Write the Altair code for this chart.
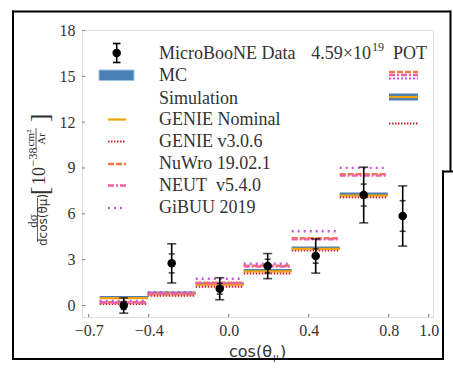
import altair as alt
import pandas as pd

# ---- measured differential cross section (MicroBooNE data) ----
data_x = [-0.525, -0.285, -0.045, 0.195, 0.435, 0.675, 0.87]
data_y = [0.0, 2.76, 1.10, 2.58, 3.24, 7.23, 5.86]
err_total = [0.50, 1.28, 0.72, 0.82, 1.12, 1.82, 1.97]
err_stat = [0.25, 0.62, 0.35, 0.45, 0.47, 0.72, 1.00]

# ---- simulated predictions, one value per cos(theta_mu) bin ----
bin_lo = [-0.645, -0.405, -0.165, 0.075, 0.315, 0.555]
bin_hi = [-0.405, -0.165, 0.075, 0.315, 0.555, 0.795]
mc_band = [0.52, 0.82, 1.42, 2.29, 3.77, 7.30]
genie_nominal = [0.48, 0.78, 1.37, 2.24, 3.71, 7.20]
genie_v306 = [0.11, 0.65, 1.24, 2.11, 3.60, 7.09]
nuwro = [0.22, 0.73, 1.50, 2.60, 4.40, 8.60]
neut = [0.18, 0.77, 1.46, 2.55, 4.34, 8.51]
gibuu = [0.30, 0.87, 1.75, 2.73, 4.86, 9.01]

x_ticks = [-0.7, -0.4, 0.0, 0.4, 0.8, 1.0]
y_ticks = [0, 3, 6, 9, 12, 15, 18]

# ---- styles ----
SERIF = "Liberation Serif"
SANS = "DejaVu Sans"
TXT = "#333333"
C_MC = "#4a7fb5"
C_NOM = "#f2a20a"
C_V3 = "#c8202c"
C_NUWRO = "#f07a45"
C_NEUT = "#f062a8"
C_GIBUU = "#c458dc"

W, H = 351, 287
OX, OY = 82, 30  # page position of the plot area


def px(x):
    return x - OX


def py(y):
    return y - OY


xs = alt.Scale(domain=[-0.7335, 1.0215], nice=False, zero=False)
ys = alt.Scale(domain=[-0.75, 18.03], nice=False, zero=False)

axis_x = alt.Axis(values=x_ticks, labelFont=SERIF, labelFontSize=16, labelColor=TXT,
                  labelExpr="replace(format(datum.value, '.1f'), '-', '\u2212')",
                  ticks=False, domain=False, grid=False, labelPadding=5, title=None,
                  labelFlush=False)
axis_y = alt.Axis(values=y_ticks, labelFont=SERIF, labelFontSize=16, labelColor=TXT,
                  ticks=False, domain=False, grid=False, labelPadding=7, title=None)


def X(field):
    return alt.X(field + ":Q", scale=xs, axis=axis_x)


def Y(field):
    return alt.Y(field + ":Q", scale=ys, axis=axis_y)


sim = pd.DataFrame({"lo": bin_lo, "hi": bin_hi, "mc": mc_band,
                    "nom": genie_nominal, "v3": genie_v306,
                    "nuwro": nuwro, "neut": neut, "gibuu": gibuu})

dat = pd.DataFrame({"x": data_x, "y": data_y})
dat["tlo"] = [y - e for y, e in zip(data_y, err_total)]
dat["thi"] = [y + e for y, e in zip(data_y, err_total)]
dat["slo"] = [y - e for y, e in zip(data_y, err_stat)]
dat["shi"] = [y + e for y, e in zip(data_y, err_stat)]

base_sim = alt.Chart(sim)


def step(field, color, width, dash=None):
    kw = dict(color=color, strokeWidth=width)
    if dash:
        kw["strokeDash"] = dash
    return base_sim.mark_rule(**kw).encode(x=X("lo"), x2="hi", y=Y(field))


layers = []

# inward tick marks
layers.append(
    alt.Chart(pd.DataFrame({"t": x_ticks})).mark_rule(color="#777", strokeWidth=1).encode(
        x=X("t"), y=alt.value(H), y2=alt.value(H - 3)
    )
)
layers.append(
    alt.Chart(pd.DataFrame({"t": y_ticks})).mark_rule(color="#777", strokeWidth=1).encode(
        y=Y("t"), x=alt.value(0), x2=alt.value(3)
    )
)

# simulated predictions
layers.append(step("mc", C_MC, 3.0))
layers.append(step("v3", C_V3, 2.2, [1.5, 1.5]))
layers.append(step("nom", C_NOM, 2.2))
layers.append(step("nuwro", C_NUWRO, 2.4, [6, 2]))
layers.append(step("neut", C_NEUT, 2.4, [6, 2, 2, 2]))
layers.append(step("gibuu", C_GIBUU, 2.4, [2, 4]))

# data: total error bars with caps, statistical ticks, markers
bd = alt.Chart(dat)
layers.append(bd.mark_rule(color="black", strokeWidth=1.6).encode(x=X("x"), y=Y("tlo"), y2="thi"))
for f, sz in (("tlo", 9), ("thi", 9), ("slo", 6), ("shi", 6)):
    layers.append(bd.mark_tick(color="black", thickness=1.6, size=sz, orient="horizontal").encode(
        x=X("x"), y=Y(f)))
layers.append(bd.mark_circle(color="black", size=72, opacity=1).encode(x=X("x"), y=Y("y")))


# ---- legend ----
def hline(x1, x2, y, color, width, dash=None):
    kw = dict(color=color, strokeWidth=width)
    if dash:
        kw["strokeDash"] = dash
    return alt.Chart(pd.DataFrame({"a": [0]})).mark_rule(**kw).encode(
        x=alt.value(px(x1)), x2=alt.value(px(x2)), y=alt.value(py(y)))


def vline(x, y1, y2, color, width):
    return alt.Chart(pd.DataFrame({"a": [0]})).mark_rule(color=color, strokeWidth=width).encode(
        x=alt.value(px(x)), y=alt.value(py(y1)), y2=alt.value(py(y2)))


def label(txt, x, y, size=18, font=SERIF, align="left", angle=0, color=TXT, baseline="middle"):
    return alt.Chart(pd.DataFrame({"a": [0]})).mark_text(
        text=txt, font=font, fontSize=size, align=align, baseline=baseline,
        angle=angle, color=color).encode(x=alt.value(px(x)), y=alt.value(py(y)))


leg_names = ["MicroBooNE Data", "MC", "Simulation", "GENIE Nominal", "GENIE v3.0.6",
             "NuWro 19.02.1", "NEUT\u00a0 v5.4.0", "GiBUU 2019"]
leg_y = [53.5, 76, 99, 119.5, 141.5, 164, 185.5, 208]
for name, yy in zip(leg_names, leg_y):
    layers.append(label(name, 159, yy))

# data symbol
layers.append(vline(116.7, 43.5, 62.5, "black", 1.6))
layers.append(hline(113, 120.5, 43.5, "black", 1.6))
layers.append(hline(113, 120.5, 62.5, "black", 1.6))
layers.append(alt.Chart(pd.DataFrame({"a": [0]})).mark_circle(color="black", size=72, opacity=1).encode(
    x=alt.value(px(116.7)), y=alt.value(py(53))))
# MC patch
layers.append(alt.Chart(pd.DataFrame({"a": [0]})).mark_rect(color=C_MC, stroke="#9cc3e6", strokeWidth=1).encode(
    x=alt.value(px(99)), x2=alt.value(px(134)), y=alt.value(py(70)), y2=alt.value(py(80.5))))
layers.append(hline(108, 126, 119.5, C_NOM, 2.2))
layers.append(hline(108, 126, 141.5, C_V3, 2.2, [1.5, 1.5]))
layers.append(hline(108, 126, 164, C_NUWRO, 2.4, [6, 2]))
layers.append(hline(108, 126, 185.5, C_NEUT, 2.4, [6, 2, 2, 2]))
layers.append(hline(108, 126, 208, C_GIBUU, 2.4, [2, 4]))

# POT label
layers.append(label("4.59\u00d710", 371, 53.5, align="right"))
layers.append(label("19", 372, 47, size=12))
layers.append(label("POT", 393, 53.5))

# right-hand line samples
layers.append(hline(389, 418, 72, C_NUWRO, 2.4, [6, 2]))
layers.append(hline(389, 418, 75, C_NEUT, 2.4, [6, 2, 2, 2]))
layers.append(hline(389, 418, 78.5, C_GIBUU, 2.2, [2, 2]))
layers.append(hline(389, 418, 97, C_MC, 7))
layers.append(hline(389, 418, 97, C_NOM, 2.2))
layers.append(hline(389, 418, 123.5, C_V3, 2.2, [1.5, 1.5]))

# ---- axis titles ----
layers.append(label("cos(\u03b8", 229, 357, size=16, font=SANS, baseline="alphabetic"))
layers.append(label("\u03bc", 273, 360, size=11, font=SERIF, baseline="alphabetic"))
layers.append(label(")", 280, 357, size=16, font=SANS, baseline="alphabetic"))

layers.append(label("d\u03c3", 33, 221, size=13, angle=270, align="center"))
layers.append(vline(37.5, 198, 242, TXT, 0.8))
layers.append(label("dcos(\u03b8\u03bc)", 43, 220, size=12, font=SANS, angle=270, align="center"))
layers.append(label("[", 40, 191, size=26, angle=270, align="center"))
layers.append(label("10", 40, 176, size=18, angle=270, align="center"))
layers.append(label("\u221238", 33, 157, size=12, angle=270, align="center"))
layers.append(label("cm\u00b2", 31, 138, size=11, angle=270, align="center"))
layers.append(vline(36, 128, 149, TXT, 0.8))
layers.append(label("Ar", 41.5, 139, size=11, angle=270, align="center"))
layers.append(label("]", 40, 118, size=26, angle=270, align="center"))

# ---- black framing lines around the figure ----
layers.append(hline(12, 451, 11.5, "black", 2))
layers.append(vline(13, 10.5, 360, "black", 2))
layers.append(hline(12, 444, 359, "black", 2))
layers.append(vline(450.5, 10.5, 172, "black", 2))
layers.append(hline(442, 453, 171.5, "black", 2))
layers.append(vline(443, 170.5, 360, "black", 2))

chart = alt.layer(*layers).properties(
    width=W, height=H,
    autosize=alt.AutoSizeParams(type="none"),
    padding={"left": OX, "top": OY, "right": 453 - OX - W, "bottom": 368 - OY - H},
).configure_view(stroke="#8a8a8a", strokeWidth=1.2).configure_axis(
    labelFont=SERIF, labelFontSize=16, labelColor=TXT
).configure(background="white")

chart.save("out.html", embed_options={"renderer": "svg", "actions": False})
